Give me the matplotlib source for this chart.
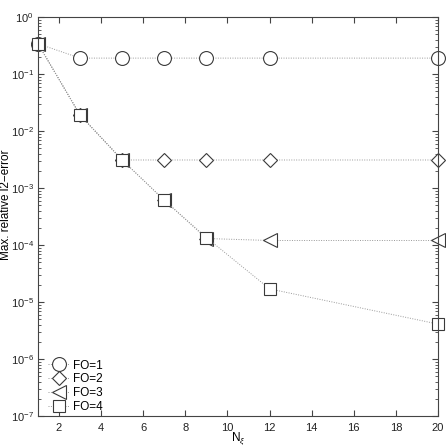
import numpy as np
import matplotlib
matplotlib.use("Agg")
import matplotlib.pyplot as plt

# data
n_xi = [1, 3, 5, 7, 9, 12, 20]
fo1 = [0.34, 0.19, 0.19, 0.19, 0.19, 0.19, 0.19]
fo2 = [0.34, 0.019, 0.0031, 0.0031, 0.0031, 0.0031, 0.0031]
fo3 = [0.34, 0.019, 0.0031, 6.1e-4, 1.3e-4, 1.2e-4, 1.2e-4]
fo4 = [0.34, 0.019, 0.0031, 6.1e-4, 1.35e-4, 1.7e-5, 4.1e-6]
labels = ['FO=1', 'FO=2', 'FO=3', 'FO=4']

plt.rcParams['font.family'] = ['Liberation Sans', 'DejaVu Sans']
plt.rcParams['font.size'] = 8
plt.rcParams['mathtext.fontset'] = 'custom'
plt.rcParams['mathtext.rm'] = 'Liberation Sans'
plt.rcParams['mathtext.it'] = 'Liberation Sans:italic'

fig = plt.figure(figsize=(4.46, 4.46), dpi=100)
ax = fig.add_axes([38/446, 30/446, 400/446, 399/446])

mcol = '#3a3a3a'
lcol = '#999999'
markers = ['o', 'D', '<', 's']
sizes = [10, 7.5, 10, 8.5]
for yy, mk, ms, lab in zip([fo1, fo2, fo3, fo4], markers, sizes, labels):
    ax.plot(n_xi, yy, linestyle=(0, (1, 1.5)), color=lcol, linewidth=0.7,
            marker=mk, markersize=ms,
            markerfacecolor='white', markeredgecolor=mcol,
            markeredgewidth=0.8, label=lab, clip_on=False)

ax.set_yscale('log')
ax.set_xlim(1, 20)
ax.set_ylim(1e-7, 1)
ax.set_xticks([2, 4, 6, 8, 10, 12, 14, 16, 18, 20])
ax.tick_params(which='both', direction='in', top=True, right=True,
               color='#444444', labelcolor='#222222', labelsize=8, pad=3)
ax.tick_params(axis='x', pad=5)
ax.tick_params(which='major', length=4)
ax.tick_params(which='minor', length=2)
for sp in ax.spines.values():
    sp.set_color('#444444')
    sp.set_linewidth(0.8)

ax.set_xlabel(r'N$_\xi$', fontsize=8.5)
ax.xaxis.set_label_coords(0.5, -0.037)
ax.set_ylabel('Max. relative l2\u2212error', fontsize=8.5)
ax.yaxis.set_label_coords(-0.064, 0.53)

leg = ax.legend(loc='lower left', frameon=False, handlelength=1.8,
                handletextpad=0.3, labelspacing=0.15, borderaxespad=0.0,
                bbox_to_anchor=(0.013, -0.004), fontsize=8.5)

fig.savefig('out.png', dpi=100)
